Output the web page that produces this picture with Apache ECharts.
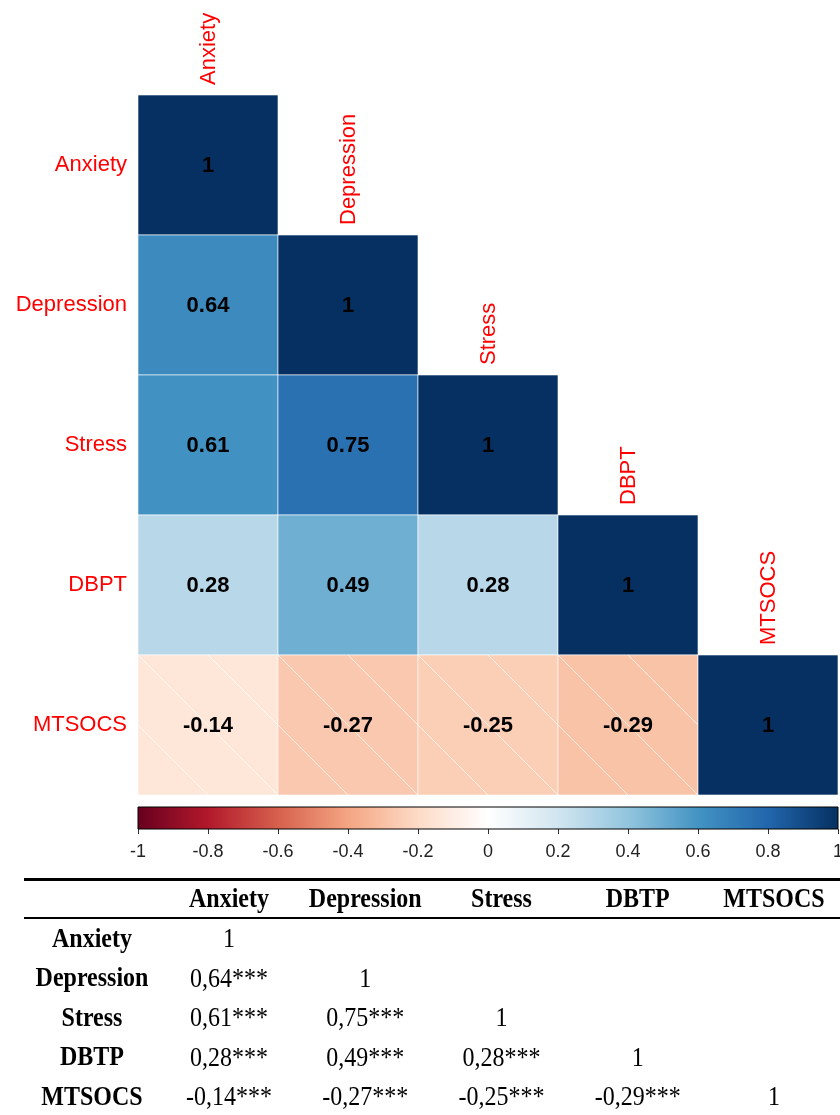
<!DOCTYPE html>
<html>
<head>
<meta charset="utf-8">
<script src="https://cdn.jsdelivr.net/npm/echarts@6/dist/echarts.min.js"></script>
<style>
  html, body { margin: 0; padding: 0; background: #fff; }
  #corr { width: 840px; height: 1115px; }
</style>
</head>
<body>
<div id="corr"></div>
<script>
// variables shown in the corrplot
var names = ['Anxiety', 'Depression', 'Stress', 'DBPT', 'MTSOCS'];
// the table below spells it DBTP
var tableNames = ['Anxiety', 'Depression', 'Stress', 'DBTP', 'MTSOCS'];
// lower triangle of the correlation matrix, row by row
var corr = [
    [1],
    [0.64, 1],
    [0.61, 0.75, 1],
    [0.28, 0.49, 0.28, 1],
    [-0.14, -0.27, -0.25, -0.29, 1]
];
var stars = '***';
// colour bar
var barMin = -1, barMax = 1, barStep = 0.2;
var rdbu = ['#67001F', '#B2182B', '#D6604D', '#F4A582', '#FDDBC7', '#FFFFFF',
            '#D1E5F0', '#92C5DE', '#4393C3', '#2166AC', '#053061'];

var cells = [];
corr.forEach(function (row, i) {
    row.forEach(function (v, j) { cells.push([j, i, v]); });
});
var diag = names.map(function (n, i) { return [i, i, n]; });

var sans = 'Liberation Sans, Arial, sans-serif';
var serif = 'Liberation Serif, Times New Roman, serif';

function fmt(v) { return v === 1 ? '1' : v.toFixed(2); }

function drawCell(params, api) {
    var v = api.value(2);
    var c = api.coord([api.value(0), api.value(1)]);
    var s = api.size([1, 1]);
    var w = s[0], h = s[1];
    var x0 = c[0] - w / 2, y0 = c[1] - h / 2;
    var kids = [{
        type: 'rect',
        shape: { x: x0, y: y0, width: w, height: h },
        style: { fill: api.visual('color'), stroke: '#fff', lineWidth: 0.6 }
    }];
    if (v < 0) {
        // white hatching on the negative cells
        [-1, 0, 1].forEach(function (k) {
            var d = k * w / 2;
            var a = d >= 0 ? [d, 0] : [0, -d];
            var b = d >= 0 ? [w, h - d] : [w + d, h];
            kids.push({
                type: 'line',
                shape: { x1: x0 + a[0], y1: y0 + a[1], x2: x0 + b[0], y2: y0 + b[1] },
                style: { stroke: 'rgba(255,255,255,0.7)', lineWidth: 1 }
            });
        });
    }
    kids.push({
        type: 'text',
        x: c[0], y: c[1] + 1,
        style: {
            text: fmt(v), fill: '#000',
            font: 'bold 22px ' + sans,
            align: 'center', verticalAlign: 'middle'
        }
    });
    return { type: 'group', children: kids };
}

function drawTopLabel(params, api) {
    var c = api.coord([api.value(0), api.value(1)]);
    var s = api.size([1, 1]);
    return {
        type: 'text',
        x: c[0] + 1, y: c[1] - s[1] / 2 - 10,
        rotation: Math.PI / 2,
        style: {
            text: names[api.value(0)], fill: '#ff0000',
            font: '22px ' + sans,
            align: 'left', verticalAlign: 'middle'
        }
    };
}

function drawBar(params, api) {
    var p0 = api.coord([barMin, 1]);
    var p1 = api.coord([barMax, 0]);
    return {
        type: 'rect',
        shape: { x: p0[0], y: p0[1], width: p1[0] - p0[0], height: p1[1] - p0[1] },
        style: {
            fill: {
                type: 'linear', x: 0, y: 0, x2: 1, y2: 0,
                colorStops: rdbu.map(function (col, i) {
                    return { offset: i / (rdbu.length - 1), color: col };
                })
            },
            stroke: '#000', lineWidth: 1
        }
    };
}

// table below the chart
var tbl = [];
var colX0 = 229, colStep = 136.25, rowY0 = 940, rowStep = 39.5, headY = 900, nameX = 92;
function tText(txt, x, y, bold) {
    return {
        type: 'text', x: x, y: y, scaleY: 1.12,
        style: {
            text: txt, fill: '#000',
            font: (bold ? 'bold ' : '') + '24px ' + serif,
            align: 'center', verticalAlign: 'middle'
        }
    };
}
tbl.push({ type: 'rect', shape: { x: 24, y: 878, width: 816, height: 3 }, style: { fill: '#000' } });
tbl.push({ type: 'rect', shape: { x: 24, y: 917, width: 816, height: 2 }, style: { fill: '#000' } });
tableNames.forEach(function (n, j) {
    tbl.push(tText(n, colX0 + j * colStep, headY, true));
});
corr.forEach(function (row, i) {
    tbl.push(tText(tableNames[i], nameX, rowY0 + i * rowStep, true));
    row.forEach(function (v, j) {
        var t = v === 1 ? '1' : v.toFixed(2).replace('.', ',') + stars;
        tbl.push(tText(t, colX0 + j * colStep, rowY0 + i * rowStep, false));
    });
});

var chart = echarts.init(document.getElementById('corr'), null, { renderer: 'canvas' });
var option = {
    animation: false,
    backgroundColor: '#fff',
    grid: [
        { left: 138, top: 95, width: 700, height: 700, outerBoundsMode: 'none' },
        { left: 138, top: 807, width: 700, height: 22, outerBoundsMode: 'none' }
    ],
    xAxis: [
        {
            type: 'category', gridIndex: 0, data: names,
            axisLine: { show: false }, axisTick: { show: false },
            axisLabel: { show: false }, splitLine: { show: false }
        },
        {
            type: 'value', gridIndex: 1, min: barMin, max: barMax, interval: barStep,
            axisLine: { show: false },
            axisTick: { show: true, length: 5, lineStyle: { color: '#333' } },
            splitLine: { show: false },
            axisLabel: {
                margin: 14, fontSize: 18, color: '#222', fontFamily: sans,
                formatter: function (v) { return String(Math.round(v * 10) / 10); }
            }
        }
    ],
    yAxis: [
        {
            type: 'category', gridIndex: 0, data: names, inverse: true,
            axisLine: { show: false }, axisTick: { show: false },
            splitLine: { show: false },
            axisLabel: { margin: 11, fontSize: 22, color: '#ff0000', fontFamily: sans }
        },
        {
            type: 'value', gridIndex: 1, min: 0, max: 1, show: false
        }
    ],
    visualMap: {
        show: false, type: 'continuous', seriesIndex: 0, dimension: 2,
        min: barMin, max: barMax, inRange: { color: rdbu }
    },
    series: [
        {
            type: 'custom', xAxisIndex: 0, yAxisIndex: 0,
            data: cells, renderItem: drawCell
        },
        {
            type: 'custom', xAxisIndex: 0, yAxisIndex: 0,
            data: diag, renderItem: drawTopLabel, clip: false
        },
        {
            type: 'custom', xAxisIndex: 1, yAxisIndex: 1,
            data: [[barMin, 0]], renderItem: drawBar
        }
    ],
    graphic: tbl
};
chart.setOption(option);
window.addEventListener('resize', chart.resize);
</script>
</body>
</html>
